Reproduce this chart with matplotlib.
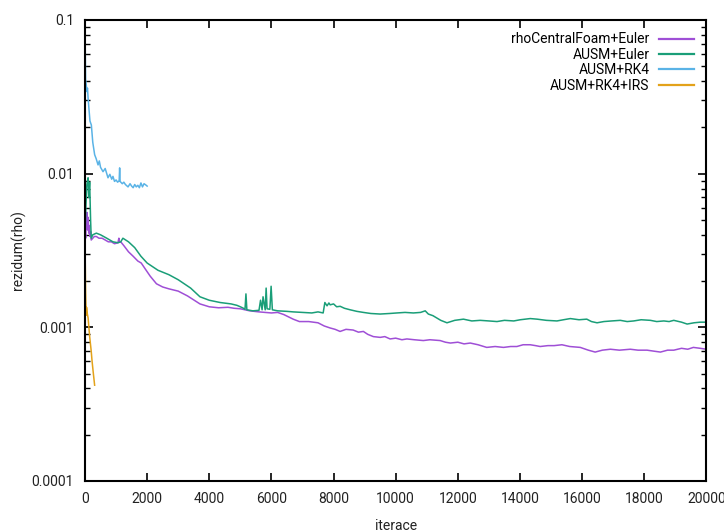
#!/usr/bin/env python3
"""
Residual rho vs iterations for several solvers (log scale).
"""

import matplotlib.pyplot as plt
from matplotlib.ticker import FixedLocator, LogLocator, NullFormatter

plt.rcParams["font.family"] = ["Roboto", "DejaVu Sans"]

# rhoCentralFoam+Euler
rcf_iter = [0, 20, 40, 60, 80, 100, 120, 140, 160, 180, 200, 250, 300, 365, 450, 550,
            650, 750, 850, 950, 1060, 1090, 1110, 1150, 1250, 1400, 1550, 1700, 1810,
            1950, 2100, 2300, 2500, 2700, 3000, 3300, 3700, 4000, 4300, 4600, 4800,
            5000, 5300, 5600, 6000, 6200, 6400, 6700, 6900, 7200, 7500, 7700,
            7890, 8050, 8210, 8400, 8630, 8800, 8960, 9100, 9280, 9500, 9650, 9820,
            10000, 10200, 10360, 10600, 10890, 11100, 11430, 11600, 11760, 12000,
            12200, 12400, 12650, 12930, 13200, 13470, 13700, 13900, 14100, 14330,
            14500, 14650, 14900, 15100, 15350, 15600, 15940, 16200, 16420, 16650,
            16910, 17200, 17550, 17800, 18090, 18300, 18520, 18750, 18950, 19200,
            19400, 19580, 19800, 20000]
rcf_res = [0.0045, 0.0038, 0.0050, 0.0056, 0.0043, 0.0052, 0.0041, 0.0046, 0.0039,
           0.0042, 0.0037, 0.0038, 0.0039, 0.0039, 0.0038, 0.0038, 0.0037, 0.0036,
           0.0036, 0.0035, 0.00355, 0.0038, 0.0036, 0.0036, 0.0034, 0.0031, 0.0029,
           0.0027, 0.00262, 0.00238, 0.00215, 0.00192, 0.00183, 0.00178, 0.00172,
           0.00160, 0.00142, 0.00136, 0.00134, 0.00135, 0.00133, 0.00132, 0.00128,
           0.00126, 0.00124, 0.00125, 0.00121, 0.00113, 0.00109, 0.00109, 0.00107,
           0.00102,
           0.00099, 0.00097, 0.00094, 0.00097, 0.00096, 0.00093, 0.00094, 0.00090,
           0.00087, 0.00086, 0.00087, 0.00084, 0.00085, 0.00083, 0.00084, 0.00083,
           0.00082, 0.00083, 0.00082, 0.00080, 0.00079, 0.00080, 0.00078, 0.00079,
           0.00077, 0.00074, 0.00075, 0.00074, 0.00075, 0.00075, 0.00077, 0.00077,
           0.00076, 0.00075, 0.00076, 0.00076, 0.00077, 0.00075, 0.00074, 0.00071,
           0.00069, 0.00071, 0.00072, 0.00071, 0.00072, 0.00071, 0.00071, 0.00070,
           0.00069, 0.00071, 0.00071, 0.00073, 0.00072, 0.00074, 0.00073, 0.00072]

# AUSM+Euler
ae_iter = [0, 30, 60, 100, 120, 150, 180, 200, 250, 365, 500, 700, 900, 1060, 1150,
           1220, 1400, 1600, 1800, 2000, 2350, 2700, 3000, 3400, 3700, 4000, 4350,
           4700, 4890, 5000, 5100, 5150, 5180, 5210, 5400, 5600, 5650, 5700, 5730,
           5800, 5830, 5860, 5950, 5990, 6030, 6200, 6500, 6700, 7000, 7300, 7500,
           7665, 7720, 7790, 7850, 7890, 8000, 8100, 8212, 8350, 8535, 8750, 8960,
           9200, 9500, 9800, 10040, 10300, 10570, 10800, 10950, 11050, 11200, 11450,
           11650, 11900, 12180, 12450, 12720, 13000, 13260, 13500, 13800, 14010,
           14330, 14550, 14850, 15190, 15400, 15620, 15900, 16150, 16300, 16480,
           16700, 16950, 17230, 17450, 17660, 17900, 18200, 18400, 18630, 18800,
           18950, 19200, 19380, 19600, 19800, 20000]
ae_res = [0.0040, 0.0062, 0.0085, 0.0094, 0.0070, 0.0088, 0.0050, 0.0038, 0.0040,
          0.0041, 0.0040, 0.0038, 0.0036, 0.00355, 0.0036, 0.0038, 0.0036, 0.0033,
          0.0029, 0.00262, 0.00235, 0.0022, 0.00204, 0.0018, 0.00158, 0.0015,
          0.00145, 0.00142, 0.00139, 0.00136, 0.00133, 0.00131, 0.00165, 0.0013,
          0.00128, 0.00129, 0.0015, 0.0013, 0.00158, 0.0013, 0.0018, 0.00132,
          0.00131, 0.00185, 0.0013, 0.00128, 0.00127, 0.00126, 0.00125, 0.00124,
          0.00126, 0.00124, 0.00145, 0.00138, 0.00144, 0.00140, 0.00142, 0.00136,
          0.00137, 0.00133, 0.00130, 0.00127, 0.00125, 0.00123, 0.00122, 0.00123,
          0.00124, 0.00125, 0.00124, 0.00125, 0.00128, 0.00122, 0.00119, 0.00111,
          0.00107, 0.00111, 0.00113, 0.00110, 0.00111, 0.00110, 0.00109, 0.00111,
          0.00110, 0.00112, 0.00114, 0.00113, 0.00111, 0.00110, 0.00112, 0.00114,
          0.00112, 0.00113, 0.00109, 0.00107, 0.00109, 0.00110, 0.00111, 0.00109,
          0.00110, 0.00112, 0.00111, 0.00109, 0.00110, 0.00109, 0.00111, 0.00108,
          0.00105, 0.00107, 0.00108, 0.00108]

# AUSM+RK4
rk4_iter = [0, 10, 20, 40, 60, 80, 100, 130, 160, 205, 250, 310, 360, 420, 460, 500,
            580, 650, 740, 800, 860, 900, 950, 1000, 1050, 1100, 1115, 1130, 1200,
            1250, 1300, 1385, 1450, 1500, 1550, 1600, 1650, 1700, 1750, 1800, 1850,
            1900, 1970, 2000]
rk4_res = [0.095, 0.060, 0.041, 0.038, 0.0342, 0.036, 0.031, 0.026, 0.022, 0.0207,
           0.016, 0.0133, 0.0125, 0.0114, 0.0121, 0.0110, 0.0103, 0.0108, 0.0094,
           0.0099, 0.0092, 0.0096, 0.0089, 0.0091, 0.0088, 0.0090, 0.0109, 0.0089,
           0.0086, 0.0088, 0.0085, 0.0082, 0.0086, 0.0083, 0.0081, 0.0085, 0.0082,
           0.0084, 0.0081, 0.0087, 0.0082, 0.0086, 0.0084, 0.0083]

# AUSM+RK4+IRS
irs_iter = [0, 10, 20, 30, 40, 50, 70, 100, 150, 200, 225, 260, 310]
irs_res = [0.0033, 0.0025, 0.0017, 0.0014, 0.0012, 0.00135, 0.00124, 0.00115,
           0.00087, 0.00070, 0.00061, 0.00052, 0.00042]


def main():
    fig = plt.figure(figsize=(7.24, 5.30), dpi=100)
    ax = fig.add_axes([0.1174, 0.0925, 0.8583, 0.8698])

    ax.plot(rcf_iter, rcf_res, color="#9f4fd6", lw=1.1, label="rhoCentralFoam+Euler")
    ax.plot(ae_iter, ae_res, color="#1a9e78", lw=1.1, label="AUSM+Euler")
    ax.plot(rk4_iter, rk4_res, color="#5ab3e6", lw=1.1, label="AUSM+RK4")
    ax.plot(irs_iter, irs_res, color="#e3a21a", lw=1.1, label="AUSM+RK4+IRS")

    ax.set_yscale("log")
    ax.set_xlim(0, 20000)
    ax.set_ylim(0.0001, 0.1)
    ax.xaxis.set_major_locator(FixedLocator(range(0, 20001, 2000)))
    ax.set_xticklabels([str(v) for v in range(0, 20001, 2000)])
    ax.yaxis.set_major_locator(FixedLocator([0.0001, 0.001, 0.01, 0.1]))
    ax.set_yticklabels(["0.0001", "0.001", "0.01", "0.1"])
    ax.yaxis.set_minor_locator(LogLocator(base=10, subs=range(2, 10)))
    ax.yaxis.set_minor_formatter(NullFormatter())

    ax.tick_params(which="both", direction="in", top=True, right=True,
                   labelsize=10, colors="black", labelcolor="#222222")
    ax.tick_params(which="major", length=6, width=1.2, pad=8)
    ax.tick_params(which="minor", length=3.5, width=1.0)
    for s in ax.spines.values():
        s.set_linewidth(1.5)
        s.set_color("black")

    ax.set_xlabel("iterace", fontsize=10, color="#222222", labelpad=9)
    ax.set_ylabel("rezidum(rho)", fontsize=10, color="#222222", labelpad=4)

    leg = ax.legend(loc="upper right", markerfirst=False, frameon=False,
                    fontsize=10, handlelength=2.5, handletextpad=0.7,
                    labelspacing=0.1, borderaxespad=0.5,
                    bbox_to_anchor=(1.0, 1.0))
    for line in leg.get_lines():
        line.set_linewidth(1.6)

    fig.savefig("out.png", dpi=100)


if __name__ == "__main__":
    main()
